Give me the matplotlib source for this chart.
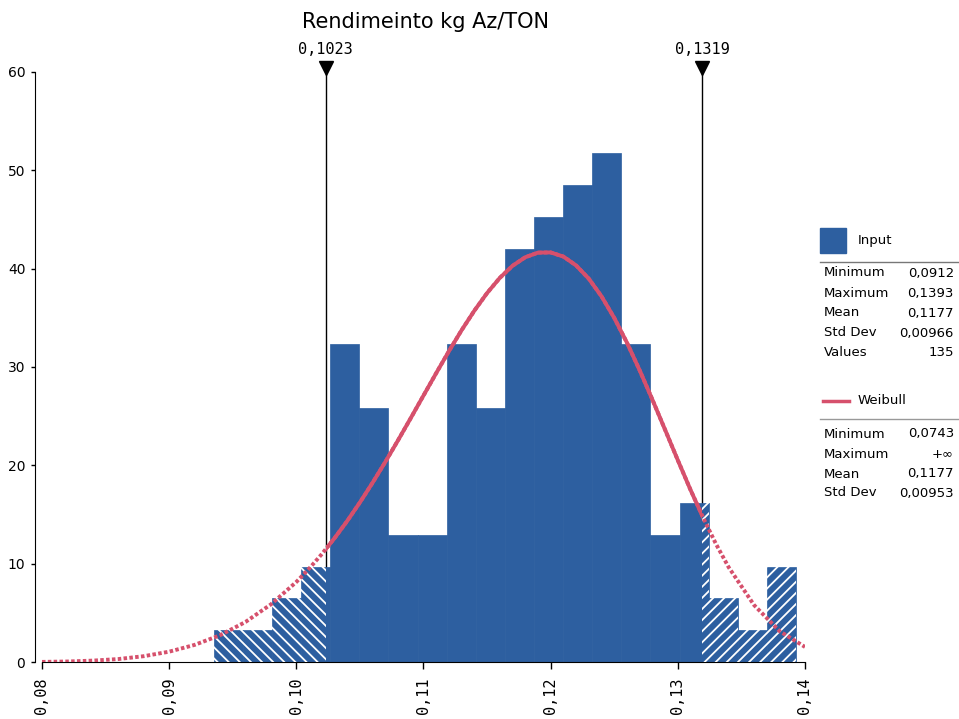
import matplotlib
matplotlib.use("Agg")
import matplotlib.pyplot as plt
from matplotlib.patches import Rectangle

# histogram of "Input" (135 values), bins of equal width
bin_start = 0.0935
bin_width = 0.00229
n_values = 135
counts = [1, 1, 2, 3, 10, 8, 4, 4, 10, 8, 13, 14, 15, 16, 10, 4, 5, 2, 1, 3]

# fitted Weibull density
curve_x = [0.080, 0.082, 0.084, 0.086, 0.088, 0.090, 0.092, 0.094, 0.096, 0.098,
           0.100, 0.101, 0.102, 0.103, 0.104, 0.105, 0.106, 0.107, 0.108, 0.109,
           0.110, 0.111, 0.112, 0.113, 0.114, 0.115, 0.116, 0.117, 0.118, 0.119,
           0.120, 0.121, 0.122, 0.123, 0.124, 0.125, 0.126, 0.127, 0.128, 0.129,
           0.130, 0.131, 0.132, 0.133, 0.134, 0.136, 0.138, 0.140]
curve_y = [0.01, 0.05, 0.14, 0.30, 0.59, 1.05, 1.74, 2.72, 4.07, 5.86,
           8.14, 9.49, 10.97, 12.59, 14.34, 16.23, 18.24, 20.35, 22.55, 24.81,
           27.10, 29.38, 31.61, 33.75, 35.73, 37.52, 39.06, 40.29, 41.16, 41.63,
           41.65, 41.23, 40.33, 38.98, 37.18, 34.99, 32.47, 29.66, 26.68, 23.61,
           20.52, 17.50, 14.65, 12.00, 9.63, 5.78, 3.14, 1.53]

# delimiters
t_low = 0.1023
t_high = 0.1319

x_ticks = [0.08, 0.09, 0.10, 0.11, 0.12, 0.13, 0.14]
y_ticks = [0, 10, 20, 30, 40, 50, 60]

input_stats = [("Minimum", "0,0912"), ("Maximum", "0,1393"), ("Mean", "0,1177"),
               ("Std Dev", "0,00966"), ("Values", "135")]
weibull_stats = [("Minimum", "0,0743"), ("Maximum", "+\u221e"), ("Mean", "0,1177"),
                 ("Std Dev", "0,00953")]

blue = "#2d5fa0"
red = "#d6506c"

plt.rcParams["hatch.linewidth"] = 1.3

W, H = 959, 719
fig = plt.figure(figsize=(W / 100, H / 100), dpi=100)
ax = fig.add_axes([42 / W, 57 / H, 763 / W, 590 / H])

# solid bars first
for i, c in enumerate(counts):
    left = bin_start + i * bin_width
    h = c / (n_values * bin_width)
    ax.bar(left, h, width=bin_width, align="edge", color=blue, edgecolor=blue,
           linewidth=0.5, zorder=2)
    # hatched parts outside the delimiters
    right = left + bin_width
    if left < t_low:
        ax.bar(left, h, width=min(right, t_low) - left, align="edge",
               facecolor="none", edgecolor="white", linewidth=0,
               hatch="\\\\\\", zorder=3)
    if right > t_high:
        a = max(left, t_high)
        ax.bar(a, h, width=right - a, align="edge", facecolor="none",
               edgecolor="white", linewidth=0, hatch="///", zorder=3)

# weibull curve: dotted everywhere, solid between the delimiters
ax.plot(curve_x, curve_y, color=red, lw=2.8, linestyle=(0, (0.9, 0.6)),
        dash_capstyle="butt", zorder=4)
solid, = ax.plot(curve_x, curve_y, color=red, lw=2.8, zorder=5,
                 solid_capstyle="butt", solid_joinstyle="round")
clip = Rectangle((t_low, -5), t_high - t_low, 80, transform=ax.transData)
solid.set_clip_path(clip)

# delimiter lines
for t in (t_low, t_high):
    ax.axvline(t, color="black", lw=1, zorder=1)
    ax.plot([t], [60.45], marker="v", color="black", markersize=10,
            clip_on=False, zorder=6)
    ax.text(t, 62.3, ("%.4f" % t).replace(".", ","), ha="center", va="center",
            fontsize=11, family="DejaVu Sans Mono")

ax.set_xlim(0.08, 0.14)
ax.set_ylim(0, 60)
ax.set_xticks(x_ticks)
ax.set_xticklabels([("%.2f" % v).replace(".", ",") for v in x_ticks],
                   rotation=90, fontsize=11, family="DejaVu Sans Mono")
ax.set_yticks(y_ticks)
ax.set_yticklabels([str(v) for v in y_ticks], fontsize=12)
ax.tick_params(axis="x", length=5, width=1, pad=6)
ax.tick_params(axis="y", length=3, width=1, pad=4)
for s in ("top", "right"):
    ax.spines[s].set_visible(False)
ax.spines["left"].set_position(("outward", 5))
ax.patch.set_alpha(0)

fig.text(425 / W, 1 - 22 / H, "Rendimeinto kg Az/TON", ha="center", va="center",
         fontsize=15)

# legend panel on the right
def fy(py):
    return 1 - py / H

fig.patches.append(Rectangle((820 / W, fy(253)), 26 / W, 25 / H, color=blue,
                             transform=fig.transFigure, figure=fig))
fig.text(858 / W, fy(240), "Input", fontsize=9.5, va="center")
fig.add_artist(plt.Line2D([820 / W, 958 / W], [fy(262), fy(262)], color="#777777",
                          lw=1, transform=fig.transFigure))
rows_in = [273, 293, 313, 333, 353]
for (lab, val), py in zip(input_stats, rows_in):
    fig.text(824 / W, fy(py), lab, fontsize=9.5, va="center")
    fig.text(954 / W, fy(py), val, fontsize=9.5, va="center", ha="right")

fig.add_artist(plt.Line2D([823 / W, 849 / W], [fy(401), fy(401)], color=red,
                          lw=2.5, transform=fig.transFigure))
fig.text(858 / W, fy(400), "Weibull", fontsize=9.5, va="center")
fig.add_artist(plt.Line2D([820 / W, 958 / W], [fy(419), fy(419)], color="#999999",
                          lw=1, transform=fig.transFigure))
rows_wb = [434, 454, 474, 493]
for (lab, val), py in zip(weibull_stats, rows_wb):
    fig.text(824 / W, fy(py), lab, fontsize=9.5, va="center")
    fig.text(954 / W, fy(py), val, fontsize=9.5, va="center", ha="right")

fig.savefig("out.png", dpi=100)
